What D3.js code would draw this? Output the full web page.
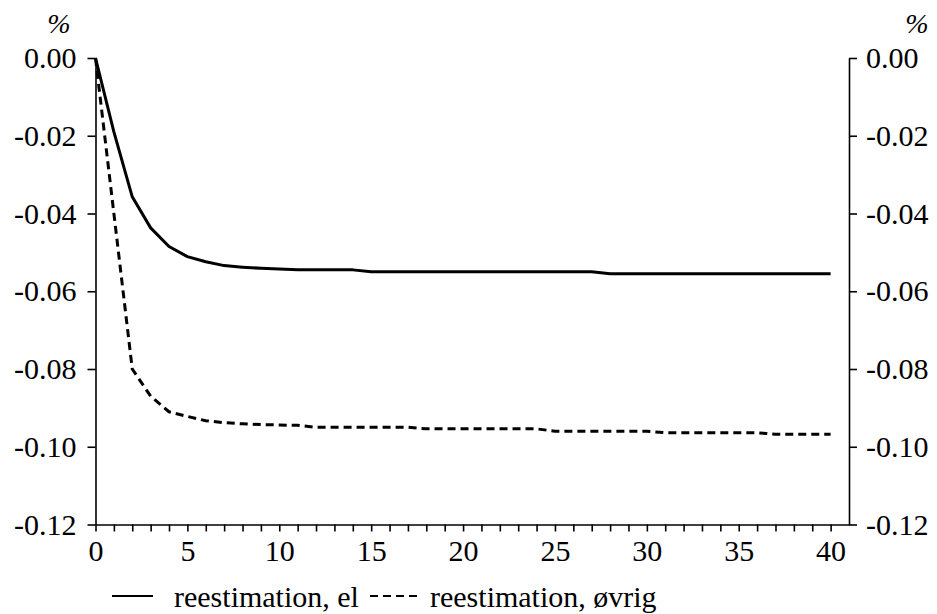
<!DOCTYPE html>
<meta charset="utf-8">
<style>
  body { margin: 0; background: #fff; }
  text { font-family: "Liberation Serif", "Times New Roman", serif; fill: #000; }
</style>
<body>
<script src="https://cdn.jsdelivr.net/npm/d3@7"></script>
<script>

// periods 0..40
var periods = d3.range(0, 41);

// reestimation, el (solid)
var el = [0, -0.0190, -0.0357, -0.0437, -0.0485, -0.0511, -0.0524, -0.0534, -0.0538, -0.0541,
  -0.0543, -0.0545, -0.0545, -0.0545, -0.0545, -0.0550, -0.0550, -0.0550, -0.0550, -0.0550,
  -0.0550, -0.0550, -0.0550, -0.0550, -0.0550, -0.0550, -0.0550, -0.0550, -0.0555, -0.0555,
  -0.0555, -0.0555, -0.0555, -0.0555, -0.0555, -0.0555, -0.0555, -0.0555, -0.0555, -0.0555,
  -0.0555];

// reestimation, øvrig (dashed)
var ovrig = [0, -0.0400, -0.0800, -0.0870, -0.0910, -0.0922, -0.0933, -0.0938, -0.0941, -0.0943,
  -0.0944, -0.0945, -0.0950, -0.0950, -0.0950, -0.0950, -0.0950, -0.0950, -0.0954, -0.0954,
  -0.0954, -0.0954, -0.0954, -0.0954, -0.0954, -0.0960, -0.0960, -0.0960, -0.0960, -0.0960,
  -0.0960, -0.0964, -0.0964, -0.0964, -0.0964, -0.0964, -0.0964, -0.0968, -0.0968, -0.0968,
  -0.0968];

var yTicks = [0, -0.02, -0.04, -0.06, -0.08, -0.10, -0.12];
var xLabels = [0, 5, 10, 15, 20, 25, 30, 35, 40];
var seriesNames = ["reestimation, el", "reestimation, øvrig"];

var width = 937, height = 614;
var mLeft = 95.5, mRight = 849, mTop = 58, mBottom = 524.5;

var svg = d3.select("body").append("svg")
    .attr("width", width)
    .attr("height", height);

var x = d3.scaleLinear().domain([0, 41]).range([mLeft, mRight]);
var y = d3.scaleLinear().domain([-0.12, 0]).range([mBottom, mTop]);

var fmt = function(d) { return d3.format(".2f")(d).replace("−", "-"); };

// x axis: tick every period, labels every 5
var xAxis = svg.append("g")
    .attr("transform", "translate(0," + mBottom + ")")
    .call(d3.axisBottom(x)
      .tickValues(periods)
      .tickSize(7)
      .tickSizeOuter(0)
      .tickPadding(8)
      .tickFormat(function(d) { return xLabels.indexOf(d) >= 0 ? d : ""; }));

// left y axis
var yLeft = svg.append("g")
    .attr("transform", "translate(" + mLeft + ",0)")
    .call(d3.axisLeft(y)
      .tickValues(yTicks)
      .tickSize(8)
      .tickSizeOuter(0)
      .tickPadding(11)
      .tickFormat(fmt));

// right y axis
var yRight = svg.append("g")
    .attr("transform", "translate(" + mRight + ",0)")
    .call(d3.axisRight(y)
      .tickValues(yTicks)
      .tickSize(8)
      .tickSizeOuter(0)
      .tickPadding(9)
      .tickFormat(fmt));

[xAxis, yLeft, yRight].forEach(function(g) {
  g.selectAll("path, line").attr("stroke", "#000").attr("stroke-width", 1.6);
  g.selectAll("text")
    .style("font-family", "'Liberation Serif', 'Times New Roman', serif")
    .style("font-size", "30px")
    .attr("fill", "#000");
});
xAxis.selectAll("text").attr("dy", "0.72em");

// unit labels
svg.append("text")
    .attr("x", 59).attr("y", 33)
    .attr("text-anchor", "middle")
    .style("font-size", "28px")
    .style("font-style", "italic")
    .text("%");
svg.append("text")
    .attr("x", 917).attr("y", 33)
    .attr("text-anchor", "middle")
    .style("font-size", "28px")
    .style("font-style", "italic")
    .text("%");

var line = d3.line()
    .x(function(d, i) { return x(periods[i]); })
    .y(function(d) { return y(d); });

svg.append("path")
    .datum(el)
    .attr("fill", "none")
    .attr("stroke", "#000")
    .attr("stroke-width", 3)
    .attr("stroke-linejoin", "round")
    .attr("d", line);

svg.append("path")
    .datum(ovrig)
    .attr("fill", "none")
    .attr("stroke", "#000")
    .attr("stroke-width", 3)
    .attr("stroke-dasharray", "8,5")
    .attr("d", line);

// legend
var legY = 596;
svg.append("line")
    .attr("x1", 112).attr("x2", 153)
    .attr("y1", legY).attr("y2", legY)
    .attr("stroke", "#000").attr("stroke-width", 2);
svg.append("text")
    .attr("x", 174).attr("y", 607)
    .style("font-size", "30px")
    .text(seriesNames[0]);
svg.append("line")
    .attr("x1", 370).attr("x2", 417)
    .attr("y1", legY).attr("y2", legY)
    .attr("stroke", "#000").attr("stroke-width", 2)
    .attr("stroke-dasharray", "8,5");
svg.append("text")
    .attr("x", 430).attr("y", 607)
    .style("font-size", "30px")
    .text(seriesNames[1]);

</script>
</body>
